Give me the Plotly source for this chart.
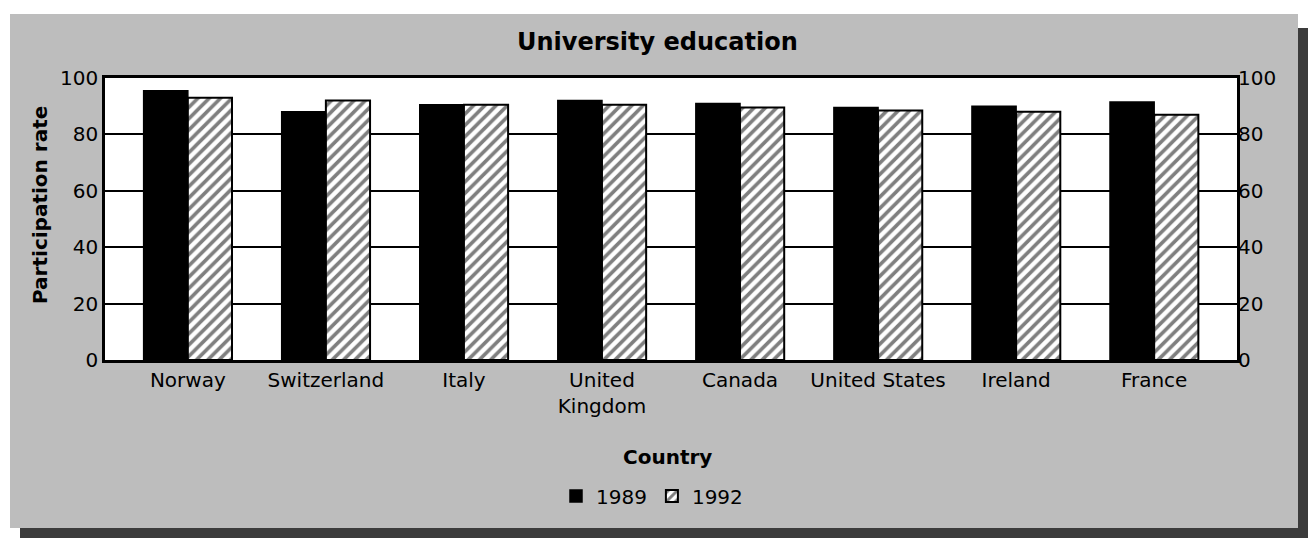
import plotly.graph_objects as go

# Participation rates in university education by country
countries = ["Norway", "Switzerland", "Italy", "United<br>Kingdom", "Canada",
             "United States", "Ireland", "France"]
rate_1989 = [95.5, 88, 90.5, 92, 91, 89.5, 90, 91.5]
rate_1992 = [93, 92, 90.5, 90.5, 89.5, 88.5, 88, 87]
y_ticks = [0, 20, 40, 60, 80, 100]

W, H = 1313, 554
L, R, T, B = 105, 76, 78, 194
PW, PH = W - L - R, H - T - B


def px_x(px):
    return (px - L) / PW


def px_y(py):
    return (H - B - py) / PH


FONT = "DejaVu Sans"
panel = "#bdbdbd"

fig = go.Figure()
fig.add_trace(go.Bar(
    x=countries, y=rate_1989, name="1989",
    marker=dict(color="black", line=dict(color="black", width=1.5)),
))
fig.add_trace(go.Bar(
    x=countries, y=rate_1992, name="1992",
    marker=dict(color="white", line=dict(color="black", width=2),
                pattern=dict(shape="/", fgcolor="black", bgcolor="white",
                             size=8, solidity=0.45)),
))
# invisible trace to carry the right-hand axis
fig.add_trace(go.Scatter(x=countries, y=rate_1989, yaxis="y2", mode="markers",
                         marker=dict(opacity=0), showlegend=False,
                         hoverinfo="skip"))

shapes = [
    # drop shadow of the panel
    dict(type="rect", xref="paper", yref="paper", layer="below",
         x0=px_x(20), x1=px_x(1308), y0=px_y(538), y1=px_y(28),
         fillcolor="#3c3c3c", line=dict(width=0)),
    # grey panel
    dict(type="rect", xref="paper", yref="paper", layer="below",
         x0=px_x(10), x1=px_x(1298), y0=px_y(528), y1=px_y(14),
         fillcolor=panel, line=dict(width=0)),
    # white plotting area
    dict(type="rect", xref="paper", yref="paper", layer="below",
         x0=0, x1=1, y0=0, y1=1, fillcolor="white", line=dict(width=0)),
]

annotations = [
    dict(text="<b>University education</b>", xref="paper", yref="paper",
         x=px_x(657), y=px_y(42), xanchor="center", yanchor="middle",
         showarrow=False, font=dict(family=FONT, size=24, color="black")),
    dict(text="<b>Participation rate</b>", xref="paper", yref="paper",
         x=px_x(40), y=px_y(205), xanchor="center", yanchor="middle",
         textangle=-90, showarrow=False,
         font=dict(family=FONT, size=20, color="black")),
    dict(text="<b>Country</b>", xref="paper", yref="paper",
         x=px_x(667), y=px_y(457), xanchor="center", yanchor="middle",
         showarrow=False, font=dict(family=FONT, size=20, color="black")),
]

axis_font = dict(family=FONT, size=20, color="black")

fig.update_layout(
    width=W, height=H,
    margin=dict(l=L, r=R, t=T, b=B),
    paper_bgcolor="white",
    plot_bgcolor="white",
    barmode="group",
    bargap=0.36,
    bargroupgap=0,
    showlegend=True,
    legend=dict(orientation="h", x=px_x(652), xanchor="center",
                y=px_y(496), yanchor="middle", bgcolor="rgba(0,0,0,0)",
                font=dict(family=FONT, size=20, color="black"),
                itemwidth=30, tracegroupgap=0),
    xaxis=dict(
        type="category", range=[-0.6, 7.6],
        showgrid=False, showline=True, linecolor="black", linewidth=2.5,
        mirror=True, ticks="", tickfont=axis_font, tickangle=0,
    ),
    yaxis=dict(
        range=[0, 100], tickvals=y_ticks, ticktext=[str(v) for v in y_ticks],
        showgrid=True, gridcolor="black", gridwidth=2,
        showline=True, linecolor="black", linewidth=2.5, mirror=True,
        ticks="", tickfont=axis_font, zeroline=False,
    ),
    yaxis2=dict(
        overlaying="y", side="right", range=[0, 100], tickvals=y_ticks,
        showgrid=False, showline=False, ticks="", tickfont=axis_font,
        zeroline=False,
    ),
    shapes=shapes,
    annotations=annotations,
)

fig.write_html("out.html")
